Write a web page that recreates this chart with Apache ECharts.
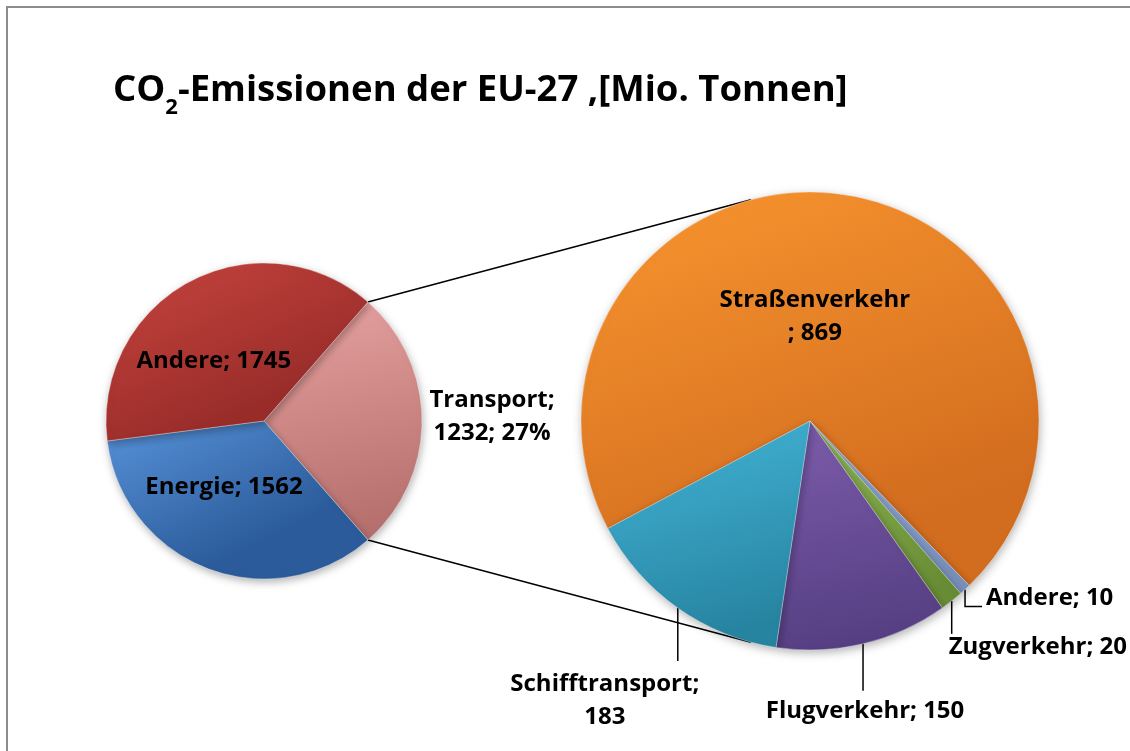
<!DOCTYPE html>
<html>
<head>
<meta charset="utf-8">
<script src="https://cdn.jsdelivr.net/npm/echarts@6/dist/echarts.min.js"></script>
<style>
  html, body { margin: 0; padding: 0; background: #fff; overflow: hidden; }
  #main { width: 1130px; height: 751px; }
</style>
</head>
<body>
<div id="main"></div>
<script>
// CO2-Emissionen EU-27, Mio. Tonnen
const mainNames = ['Transport', 'Energie', 'Andere'];
const mainValues = [1232, 1562, 1745];
// Aufteilung Transport
const transNames = ['Straßenverkehr', 'Andere', 'Zugverkehr', 'Flugverkehr', 'Schifftransport'];
const transValues = [869, 10, 20, 150, 183];

const mainColors = [['#E6A2A0', '#B56F6D'], ['#5893DA', '#2B5B9A'], ['#C9453F', '#982C29']];
const transColors = [['#F9962F', '#D26C1F'], ['#97B1DC', '#7990BB'], ['#90B855', '#688C35'], ['#7D5CAB', '#553F82'], ['#44B5D8', '#2784A1']];

const FONT = '"Open Sans"';
const C1 = [264, 421], R1 = 158;
const C2 = [810, 421], R2 = 229;

const sum = a => a.reduce((s, v) => s + v, 0);
const mainTotal = sum(mainValues);
const start1 = mainValues[0] / mainTotal * 180;
const start2 = 208;

function midAngle(values, start, i) {
  const total = sum(values);
  const cum = sum(values.slice(0, i)) + values[i] / 2;
  return start - cum / total * 360;
}
function pt(c, r, deg) {
  const a = deg * Math.PI / 180;
  return [c[0] + r * Math.cos(a), c[1] - r * Math.sin(a)];
}
// tangent from point p to circle (c, r); side -1 = upper, 1 = lower
function tangent(p, c, r, side) {
  const dx = c[0] - p[0], dy = c[1] - p[1];
  const d = Math.sqrt(dx * dx + dy * dy);
  const th = Math.atan2(dy, dx) + side * Math.asin(r / d);
  const len = Math.sqrt(d * d - r * r);
  return [p[0] + len * Math.cos(th), p[1] + len * Math.sin(th)];
}
function grad(c) {
  return {
    type: 'linear', x: 0, y: 0, x2: 0.3, y2: 1,
    colorStops: [{offset: 0, color: c[0]}, {offset: 1, color: c[1]}]
  };
}

const labelStyle = {
  fontFamily: FONT, fontWeight: 'bold', fontSize: 24, color: '#000', lineHeight: 33
};

// offsets of the labels from their anchor
const mainShift = [[70, -4], [-12, -8], [-13, 10]];

const P1 = pt(C1, R1, start1);
const P2 = pt(C1, R1, -start1);
const T1 = tangent(P1, C2, R2, -1);
const T2 = tangent(P2, C2, R2, 1);

let chart = echarts.init(document.getElementById('main'));

let option = {
  animation: false,
  title: {
    left: 108,
    top: 67,
    text: '{a|CO}{s|2}{a|-Emissionen der EU-27 ,[Mio. Tonnen]}',
    textStyle: {
      rich: {
        a: {fontFamily: FONT, fontWeight: 'bold', fontSize: 36.5, color: '#000', lineHeight: 46, verticalAlign: 'top'},
        s: {fontFamily: FONT, fontWeight: 'bold', fontSize: 22, color: '#000', lineHeight: 24, verticalAlign: 'top', padding: [25, 0, 0, 0]}
      }
    }
  },
  graphic: [
    {
      type: 'polyline', z: -10,
      shape: {points: [[7, 760], [7, 7], [1140, 7]]},
      style: {fill: 'none', stroke: '#8c8c8c', lineWidth: 2}
    },
    {
      type: 'polyline', z: 0,
      shape: {points: [P1, T1]},
      style: {stroke: '#000', lineWidth: 1.5, fill: 'none'}
    },
    {
      type: 'polyline', z: 0,
      shape: {points: [P2, T2]},
      style: {stroke: '#000', lineWidth: 1.5, fill: 'none'}
    }
  ],
  series: [
    {
      name: 'EU-27',
      type: 'pie',
      center: C1,
      radius: R1,
      startAngle: start1,
      clockwise: true,
      avoidLabelOverlap: false,
      percentPrecision: 0,
      z: 3,
      itemStyle: {
        borderColor: 'rgba(255,255,255,0.35)', borderWidth: 1,
        shadowBlur: 8, shadowColor: 'rgba(0,0,0,0.3)', shadowOffsetX: 1, shadowOffsetY: 3
      },
      label: {
        show: true, position: 'inside',
        formatter: p => p.dataIndex === 0 ? p.name + ';\n' + p.value + '; ' + p.percent + '%' : p.name + '; ' + p.value,
        ...labelStyle
      },
      labelLine: {show: false},
      labelLayout: function (params) {
        const i = params.dataIndex;
        const a = midAngle(mainValues, start1, i);
        const anchor = i === 0 ? pt(C1, R1, a) : pt(C1, R1 * 0.5, a);
        return {
          x: anchor[0] + mainShift[i][0],
          y: anchor[1] + mainShift[i][1],
          align: 'center', verticalAlign: 'middle'
        };
      },
      data: mainNames.map((n, i) => ({
        name: n, value: mainValues[i],
        itemStyle: {color: grad(mainColors[i])}
      }))
    },
    {
      name: 'Transport',
      type: 'pie',
      center: C2,
      radius: R2,
      startAngle: start2,
      clockwise: true,
      avoidLabelOverlap: false,
      z: 3,
      itemStyle: {
        borderColor: 'rgba(255,255,255,0.3)', borderWidth: 1,
        shadowBlur: 10, shadowColor: 'rgba(0,0,0,0.3)', shadowOffsetX: 1, shadowOffsetY: 3
      },
      label: {
        show: true, position: 'outside',
        formatter: p => {
          if (p.dataIndex === 0) return p.name + '\n; ' + p.value;
          if (p.dataIndex === 4) return p.name + ';\n' + p.value;
          return p.name + '; ' + p.value;
        },
        ...labelStyle
      },
      labelLine: {show: true, lineStyle: {color: '#000', width: 1.5}},
      labelLayout: function (params) {
        const i = params.dataIndex;
        const a = midAngle(transValues, start2, i);
        if (i === 0) {
          const c = pt(C2, R2 * 0.5, a);
          return {x: c[0] - 13, y: c[1] + 9, align: 'center', verticalAlign: 'middle'};
        }
        const e = pt(C2, R2, a);
        if (i === 1) {
          return {
            x: e[0] + 21, y: e[1] + 9, align: 'left', verticalAlign: 'middle',
            labelLinePoints: [e, [e[0], e[1] + 17], [e[0] + 17, e[1] + 17]]
          };
        }
        if (i === 2) {
          return {
            x: e[0] - 3, y: e[1] + 46, align: 'left', verticalAlign: 'middle',
            labelLinePoints: [e, [e[0], e[1] + 33], [e[0], e[1] + 33]]
          };
        }
        if (i === 3) {
          return {
            x: e[0] + 2, y: e[1] + 67, align: 'center', verticalAlign: 'middle',
            labelLinePoints: [e, [e[0], e[1] + 47], [e[0], e[1] + 47]]
          };
        }
        return {
          x: e[0] - 73, y: e[1] + 93, align: 'center', verticalAlign: 'middle',
          labelLinePoints: [e, [e[0], e[1] + 53], [e[0], e[1] + 53]]
        };
      },
      data: transNames.map((n, i) => ({
        name: n, value: transValues[i],
        itemStyle: {color: grad(transColors[i])},
        label: i === 0 ? {position: 'inside'} : undefined,
        labelLine: i === 0 ? {show: false} : undefined
      }))
    }
  ]
};

chart.setOption(option);
</script>
</body>
</html>
